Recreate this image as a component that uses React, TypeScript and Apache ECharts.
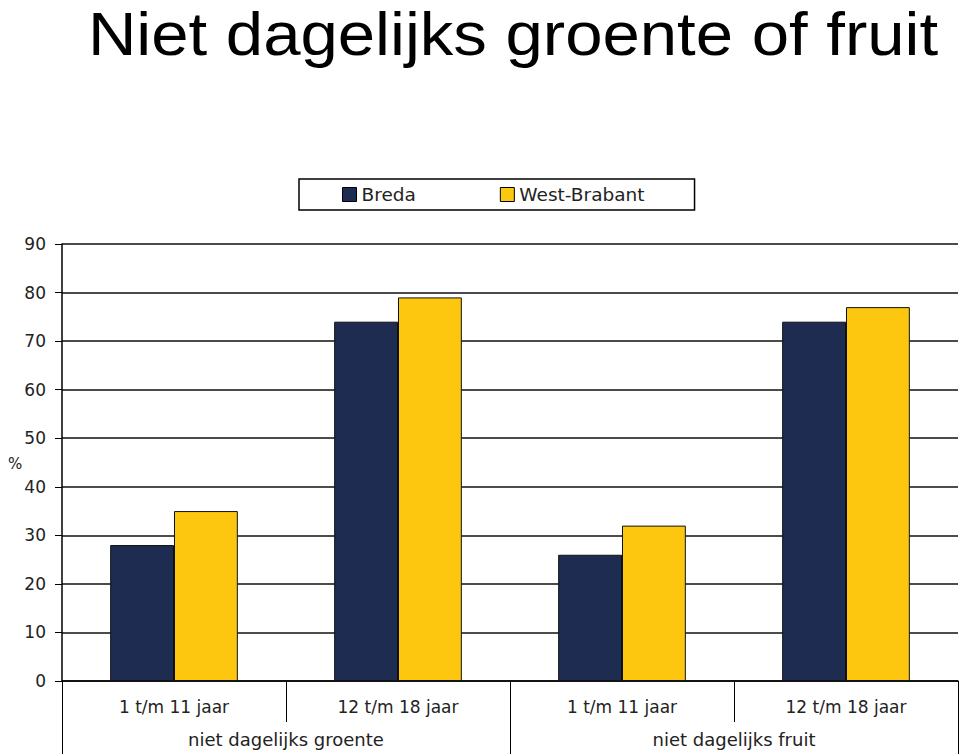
import React, { useEffect, useRef } from "react";
import * as echarts from "echarts";

const ageGroups = ["1 t/m 11 jaar", "12 t/m 18 jaar", "1 t/m 11 jaar", "12 t/m 18 jaar"];
const mainGroups = ["niet dagelijks groente", "niet dagelijks fruit"];
const bredaValues = [28, 74, 26, 74];
const westBrabantValues = [35, 79, 32, 77];
const yTicks = [0, 10, 20, 30, 40, 50, 60, 70, 80, 90];

const LABEL_FONT = "'DejaVu Sans', Verdana, sans-serif";

export default function App() {
  const ref = useRef<HTMLDivElement>(null);
  useEffect(() => {
    if (!ref.current) return;
    const chart = echarts.init(ref.current, null, { renderer: "svg" });
    chart.setOption({
      animation: false,
      backgroundColor: "#ffffff",
      graphic: [
        {
          type: "text",
          x: 513,
          y: 4,
          scaleX: 1.1,
          style: {
            text: "Niet dagelijks groente of fruit",
            font: "61px 'Liberation Sans', Arial, sans-serif",
            lineHeight: 61,
            fill: "#000000",
            align: "center",
            verticalAlign: "top",
          },
        },
        {
          type: "text",
          x: 15,
          y: 464,
          style: {
            text: "%",
            font: "15px " + LABEL_FONT,
            fill: "#222222",
            align: "center",
            verticalAlign: "middle",
          },
        },
      ],
      legend: {
        top: 179,
        left: 299,
        padding: [6, 50, 6, 43],
        itemGap: 84,
        itemWidth: 14,
        itemHeight: 14,
        icon: "rect",
        borderColor: "#000000",
        borderWidth: 1.5,
        textStyle: { fontFamily: LABEL_FONT, fontSize: 18.5, color: "#222222" },
        data: [
          { name: "Breda", itemStyle: { borderColor: "#000000", borderWidth: 1 } },
          { name: "West-Brabant", itemStyle: { borderColor: "#000000", borderWidth: 1 } },
        ],
      },
      grid: { left: 62, right: 2, top: 244, bottom: 73, containLabel: false },
      xAxis: [
        {
          type: "category",
          data: ageGroups,
          axisLine: { show: true, lineStyle: { color: "#000000", width: 1.5 } },
          axisTick: { show: true, interval: 0, length: 41, lineStyle: { color: "#000000", width: 1 } },
          axisLabel: { interval: 0, margin: 17, fontFamily: LABEL_FONT, fontSize: 17, color: "#222222" },
          splitLine: { show: false },
        },
        {
          type: "category",
          data: mainGroups,
          position: "bottom",
          axisLine: { show: false },
          axisTick: { show: true, interval: 0, length: 74, lineStyle: { color: "#000000", width: 1 } },
          axisLabel: { interval: 0, margin: 49, fontFamily: LABEL_FONT, fontSize: 18, color: "#222222" },
          splitLine: { show: false },
        },
      ],
      yAxis: {
        type: "value",
        min: 0,
        max: 90,
        interval: 10,
        axisLine: { show: true, lineStyle: { color: "#000000", width: 1.5 } },
        axisTick: { show: true, inside: false, length: 7, lineStyle: { color: "#000000" } },
        axisLabel: {
          margin: 16,
          fontFamily: LABEL_FONT,
          fontSize: 17,
          color: "#222222",
          formatter: (v: number) => (yTicks.includes(v) ? String(v) : ""),
        },
        splitLine: { show: true, lineStyle: { color: "#111111", width: 1.5 } },
      },
      series: [
        {
          name: "Breda",
          type: "bar",
          data: bredaValues,
          barGap: "0%",
          barCategoryGap: "43%",
          itemStyle: { color: "#1E2C52", borderColor: "#111111", borderWidth: 1 },
        },
        {
          name: "West-Brabant",
          type: "bar",
          data: westBrabantValues,
          barGap: "0%",
          barCategoryGap: "43%",
          itemStyle: { color: "#FDC70F", borderColor: "#111111", borderWidth: 1 },
        },
      ],
    });
    return () => chart.dispose();
  }, []);
  return <div ref={ref} style={{ width: 960, height: 754, position: "absolute", left: 0, top: 0 }} />;
}
